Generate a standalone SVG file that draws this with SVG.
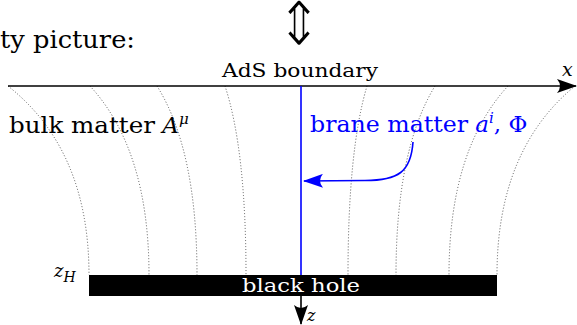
<svg xmlns="http://www.w3.org/2000/svg" width="577" height="325" viewBox="0 0 577 325">
<style>
.t{font-family:"DejaVu Serif","Liberation Serif",serif;fill:#000}
.it{font-style:italic}
.fl{fill:none;stroke:#444;stroke-width:0.9;stroke-dasharray:1 2}
.ax{stroke:#000;stroke-width:1.6;fill:none}
.bl{stroke:#0000ff;stroke-width:1.6;fill:none}
.ar{font-family:"DejaVu Sans",sans-serif;fill:#000;stroke:#fff;stroke-width:1.2}
</style>
<defs>
<marker id="ak" viewBox="0 0 20 14" refX="19" refY="7" markerWidth="20" markerHeight="14" markerUnits="userSpaceOnUse" orient="auto">
<path d="M0,0 Q6,7 0,14 L20,7 Z" fill="#000"/>
</marker>
<marker id="ab" viewBox="0 0 20 14" refX="19" refY="7" markerWidth="20" markerHeight="14" markerUnits="userSpaceOnUse" orient="auto">
<path d="M0,0 Q6,7 0,14 L20,7 Z" fill="#0000ff"/>
</marker>
</defs>
<text class="t" x="0" y="48" font-size="25" textLength="135" lengthAdjust="spacingAndGlyphs">ty picture:</text>
<text class="ar" x="0" y="0" font-size="44" text-anchor="middle" transform="translate(299,45) scale(1.25,1.4)">⇕</text>
<g id="field-lines">
<path class="fl" d="M8,86 Q89,150 89,275"/>
<path class="fl" d="M90,86 Q149,150 149,275"/>
<path class="fl" d="M157,86 Q197,150 197,275"/>
<path class="fl" d="M225,86 Q246,150 246,275"/>
<path class="fl" d="M367,86 Q348,150 348,275"/>
<path class="fl" d="M435,86 Q396,150 396,275"/>
<path class="fl" d="M508,86 Q449,150 449,275"/>
<path class="fl" d="M575,86 Q497,150 497,275"/>
</g>
<g id="connectors">
<path class="ax" d="M8,86 L576,86" marker-end="url(#ak)"/>
<path class="ax" d="M301,296 L301,324" marker-end="url(#ak)"/>
<path class="bl" d="M301,86 L301,275"/>
<path class="bl" d="M413,142 C411,172 398,180.5 365,180.5 L304,181" marker-end="url(#ab)"/>
</g>
<g id="boundary-label">
<text class="t" x="222" y="77" font-size="19" textLength="156" lengthAdjust="spacingAndGlyphs">AdS boundary</text>
<text class="t it" x="562" y="76" font-size="19">x</text>
</g>
<g id="bulk">
<text class="t" x="9" y="133" font-size="23"><tspan textLength="146" lengthAdjust="spacingAndGlyphs">bulk matter</tspan> <tspan class="it">A</tspan><tspan class="it" font-size="15" dy="-9">μ</tspan></text>
</g>
<g id="brane">
<text class="t" x="310" y="132" font-size="23" style="fill:#0000ff"><tspan textLength="158" lengthAdjust="spacingAndGlyphs">brane matter</tspan> <tspan class="it">a</tspan><tspan class="it" font-size="15" dy="-9">i</tspan><tspan dy="9">, Φ</tspan></text>
</g>
<g id="black-hole">
<rect x="89" y="275" width="408" height="21" fill="#000"/>
<text class="t" x="242" y="292" font-size="18" textLength="118" lengthAdjust="spacingAndGlyphs" style="fill:#fff">black hole</text>
<text class="t it" x="54" y="277" font-size="18">z<tspan font-size="14" dy="5">H</tspan></text>
</g>
<text class="t it" x="307" y="321" font-size="16">z</text>
</svg>
